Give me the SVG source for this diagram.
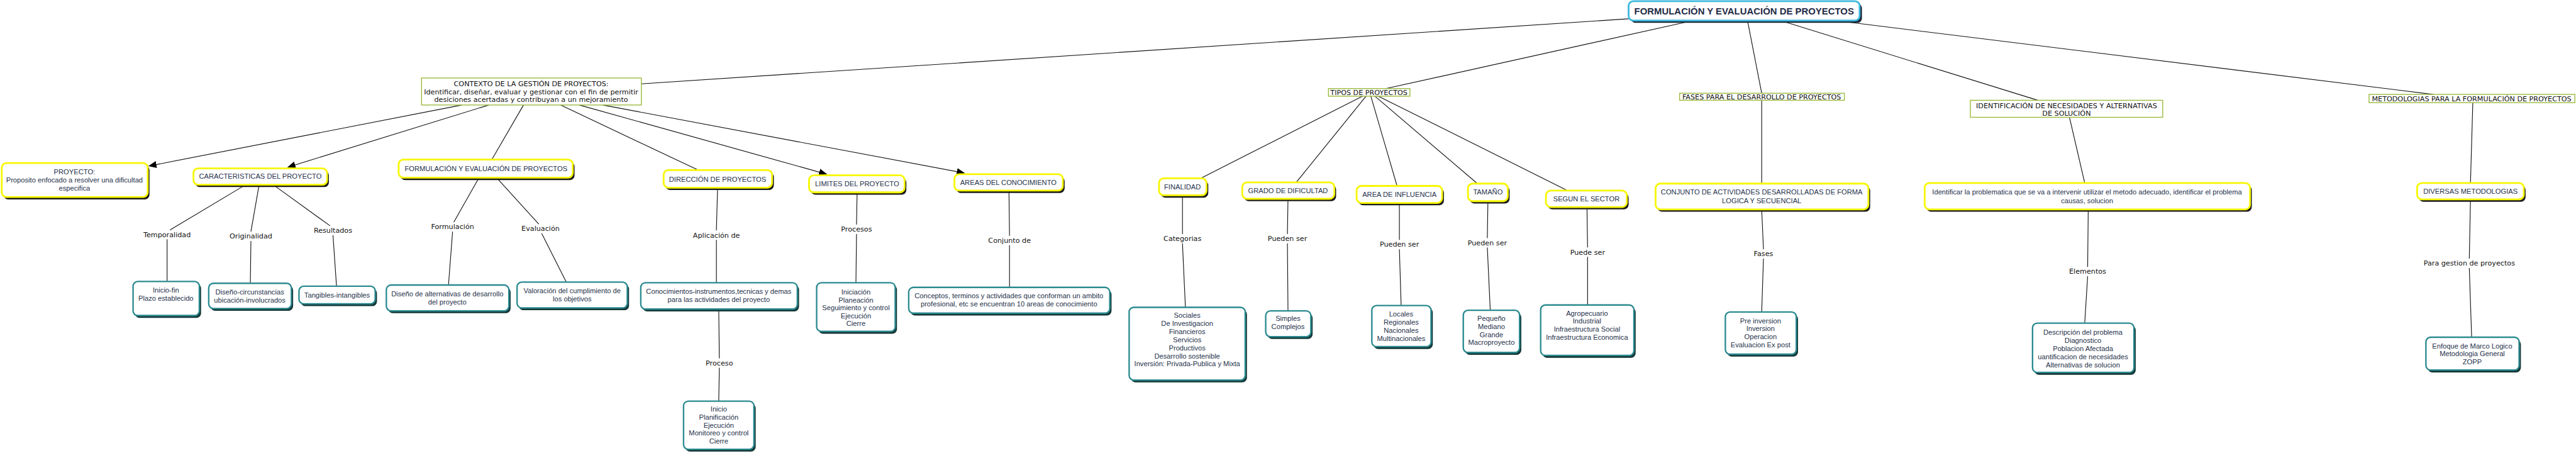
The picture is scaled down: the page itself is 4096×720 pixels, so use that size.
<svg xmlns="http://www.w3.org/2000/svg" width="4096" height="720" viewBox="0 0 4096 720">
<style>
.s{fill:#1c1c1c}
.ts{fill:#163838}
.yb{fill:#fff;stroke:#f7f700;stroke-width:3}
.tb{fill:#fff;stroke:#2a8a90;stroke-width:2.5}
.ob{fill:#fff;stroke:#9cbb3c;stroke-width:1.5}
.n{font-family:"Liberation Sans",Arial,sans-serif;font-size:12px;fill:#25314a;text-anchor:middle}
.o{font-family:"DejaVu Sans",Verdana,sans-serif;font-size:12px;fill:#111;text-anchor:middle}
.l{font-family:"DejaVu Sans",Verdana,sans-serif;font-size:12px;fill:#111;text-anchor:middle}
.c path,.c line{stroke:#111;stroke-width:1.2;fill:none}
</style>
<defs>
<marker id="ah" markerUnits="userSpaceOnUse" markerWidth="14" markerHeight="12" refX="13" refY="6" orient="auto">
<path d="M0,0 L14,6 L0,12 Z" fill="#000"/>
</marker>
</defs>
<rect width="4096" height="720" fill="#fff"/>
<g transform="scale(0.93218)">
<g id="connectors" class="c">
<line x1="2778" y1="32" x2="1094" y2="143"/>
<line x1="2884" y1="36" x2="2364" y2="151"/>
<line x1="2981" y1="36" x2="3005" y2="159"/>
<line x1="3040" y1="36" x2="3476" y2="171"/>
<line x1="3138" y1="36" x2="4151" y2="161"/>
<line x1="788" y1="179" x2="254" y2="283" marker-end="url(#ah)"/>
<line x1="834" y1="179" x2="491" y2="285" marker-end="url(#ah)"/>
<line x1="893" y1="179" x2="839" y2="272"/>
<line x1="956" y1="179" x2="1191" y2="290"/>
<line x1="988" y1="179" x2="1410" y2="297" marker-end="url(#ah)"/>
<line x1="1028" y1="179" x2="1645" y2="295" marker-end="url(#ah)"/>
<path d="M419,315 L290,392 M285,408 L285,480"/>
<path d="M442,315 L428,395 M428,411 L427,483"/>
<path d="M466,315 L563,385 M568,401 L574,488"/>
<path d="M817,303 L774,379 M772,395 L765,486"/>
<path d="M847,303 L919,382 M924,398 L966,481"/>
<path d="M1224,320 L1222,393 M1222,409 L1222,482"/>
<path d="M1226,527 L1227,611 M1227,627 L1226,684"/>
<path d="M1462,328 L1461,383 M1461,399 L1460,482"/>
<path d="M1721,325 L1722,402 M1722,418 L1722,490"/>
<line x1="2326" y1="163" x2="2048" y2="304"/>
<line x1="2331" y1="163" x2="2211" y2="311"/>
<line x1="2338" y1="163" x2="2383" y2="317"/>
<line x1="2344" y1="163" x2="2520" y2="313"/>
<line x1="2349" y1="163" x2="2676" y2="326"/>
<path d="M2017,333 L2017,399 M2017,415 L2022,524"/>
<path d="M2197,339 L2196,399 M2196,415 L2197,530"/>
<path d="M2387,346 L2387,409 M2387,425 L2390,521"/>
<path d="M2538,343 L2537,406 M2537,422 L2542,529"/>
<path d="M2707,353 L2708,422 M2708,438 L2708,520"/>
<line x1="3005" y1="171" x2="3005" y2="313"/>
<path d="M3005,357 L3008,425 M3008,441 L3005,532"/>
<line x1="3530" y1="200" x2="3556" y2="312"/>
<path d="M3562,357 L3561,455 M3561,471 L3556,551"/>
<line x1="4218" y1="175" x2="4214" y2="312"/>
<path d="M4214,340 L4212,441 M4212,457 L4216,575"/>
<text class="l" x="285" y="404">Temporalidad</text>
<text class="l" x="428" y="407">Originalidad</text>
<text class="l" x="568" y="397">Resultados</text>
<text class="l" x="772" y="391">Formulación</text>
<text class="l" x="922" y="394">Evaluación</text>
<text class="l" x="1222" y="405">Aplicación de</text>
<text class="l" x="1461" y="395">Procesos</text>
<text class="l" x="1722" y="414">Conjunto de</text>
<text class="l" x="1227" y="623">Proceso</text>
<text class="l" x="2017" y="411">Categorias</text>
<text class="l" x="2196" y="411">Pueden ser</text>
<text class="l" x="2387" y="421">Pueden ser</text>
<text class="l" x="2537" y="418">Pueden ser</text>
<text class="l" x="2708" y="434">Puede ser</text>
<text class="l" x="3008" y="437">Fases</text>
<text class="l" x="3561" y="467">Elementos</text>
<text class="l" x="4212" y="453">Para gestion de proyectos</text>
</g>
<g id="title">
<rect x="2782" y="6" width="394" height="33" rx="8" fill="#1b2838"/>
<rect x="2778" y="2" width="394" height="33" rx="8" fill="#fff" stroke="#3cb8de" stroke-width="3"/>
<text x="2975" y="25" font-family="Liberation Sans, Arial, sans-serif" font-size="16" font-weight="bold" fill="#1f2b46" text-anchor="middle">FORMULACIÓN Y EVALUACIÓN DE PROYECTOS</text>
</g>
<g id="contexto">
<rect class="ob" x="719" y="133" width="375" height="46"/>
<text class="o" x="906" y="147">CONTEXTO DE LA GESTIÓN DE PROYECTOS:</text>
<text class="o" x="906" y="160.5">Identificar, diseñar, evaluar y gestionar con el fin de permitir</text>
<text class="o" x="906" y="174">desiciones acertadas y contribuyan a un mejoramiento</text>
</g>
<g id="proyecto">
<rect class="s" x="6" y="282" width="249" height="58" rx="8"/>
<rect class="yb" x="3" y="278" width="249" height="58" rx="8"/>
<text class="n" x="127" y="297">PROYECTO:</text>
<text class="n" x="127" y="311">Proposito enfocado a resolver una dificultad</text>
<text class="n" x="127" y="325">especifica</text>
</g>
<g id="caracteristicas">
<rect class="s" x="333" y="291" width="228" height="28" rx="8"/>
<rect class="yb" x="330" y="287" width="228" height="28" rx="8"/>
<text class="n" x="444" y="305">CARACTERISTICAS DEL PROYECTO</text>
</g>
<g id="formulacion2">
<rect class="s" x="683" y="276" width="297" height="31" rx="8"/>
<rect class="yb" x="680" y="272" width="297" height="31" rx="8"/>
<text class="n" x="829" y="292">FORMULACIÓN Y EVALUACIÓN DE PROYECTOS</text>
</g>
<g id="direccion">
<rect class="s" x="1135" y="294" width="185" height="30" rx="8"/>
<rect class="yb" x="1132" y="290" width="185" height="30" rx="8"/>
<text class="n" x="1224" y="310">DIRECCIÓN DE PROYECTOS</text>
</g>
<g id="limites">
<rect class="s" x="1383" y="303" width="163" height="29" rx="8"/>
<rect class="yb" x="1380" y="299" width="163" height="29" rx="8"/>
<text class="n" x="1462" y="318">LIMITES DEL PROYECTO</text>
</g>
<g id="areas">
<rect class="s" x="1631" y="301" width="185" height="28" rx="8"/>
<rect class="yb" x="1628" y="297" width="185" height="28" rx="8"/>
<text class="n" x="1720" y="315">AREAS DEL CONOCIMIENTO</text>
</g>
<g id="iniciofin">
<rect class="ts" x="230" y="484" width="113" height="58" rx="8"/>
<rect class="tb" x="227" y="480" width="113" height="58" rx="8"/>
<text class="n" x="283" y="499">Inicio-fin</text>
<text class="n" x="283" y="513">Plazo establecido</text>
</g>
<g id="disenocirc">
<rect class="ts" x="359" y="487" width="141" height="43" rx="8"/>
<rect class="tb" x="356" y="483" width="141" height="43" rx="8"/>
<text class="n" x="426" y="502">Diseño-circunstancias</text>
<text class="n" x="426" y="516">ubicación-involucrados</text>
</g>
<g id="tangibles">
<rect class="ts" x="513" y="492" width="130" height="30" rx="8"/>
<rect class="tb" x="510" y="488" width="130" height="30" rx="8"/>
<text class="n" x="575" y="507">Tangibles-intangibles</text>
</g>
<g id="disenoalt">
<rect class="ts" x="662" y="490" width="209" height="44" rx="8"/>
<rect class="tb" x="659" y="486" width="209" height="44" rx="8"/>
<text class="n" x="763" y="505">Diseño de alternativas de desarrollo</text>
<text class="n" x="763" y="519">del proyecto</text>
</g>
<g id="valoracion">
<rect class="ts" x="885" y="485" width="188" height="44" rx="8"/>
<rect class="tb" x="882" y="481" width="188" height="44" rx="8"/>
<text class="n" x="976" y="500">Valoración del cumplimiento de</text>
<text class="n" x="976" y="514">los objetivos</text>
</g>
<g id="conocimientos">
<rect class="ts" x="1096" y="486" width="267" height="45" rx="8"/>
<rect class="tb" x="1093" y="482" width="267" height="45" rx="8"/>
<text class="n" x="1226" y="501">Conocimientos-instrumentos,tecnicas y demas</text>
<text class="n" x="1226" y="515">para las actividades del proyecto</text>
</g>
<g id="inicio">
<rect class="ts" x="1169" y="688" width="120" height="82" rx="8"/>
<rect class="tb" x="1166" y="684" width="120" height="82" rx="8"/>
<text class="n" x="1226" y="702">Inicio</text>
<text class="n" x="1226" y="715.5">Planificación</text>
<text class="n" x="1226" y="729">Ejecución</text>
<text class="n" x="1226" y="742.5">Monitoreo y control</text>
<text class="n" x="1226" y="756">Cierre</text>
</g>
<g id="iniciacion">
<rect class="ts" x="1396" y="486" width="134" height="83" rx="8"/>
<rect class="tb" x="1393" y="482" width="134" height="83" rx="8"/>
<text class="n" x="1460" y="502">Iniciación</text>
<text class="n" x="1460" y="515.5">Planeación</text>
<text class="n" x="1460" y="529">Seguimiento y control</text>
<text class="n" x="1460" y="542.5">Ejecución</text>
<text class="n" x="1460" y="556">Cierre</text>
</g>
<g id="conceptos">
<rect class="ts" x="1553" y="494" width="343" height="44" rx="8"/>
<rect class="tb" x="1550" y="490" width="343" height="44" rx="8"/>
<text class="n" x="1721" y="509">Conceptos, terminos y actividades que conforman un ambito</text>
<text class="n" x="1721" y="522.5">profesional, etc se encuentran 10 areas de conocimiento</text>
</g>
<g id="tipos">
<rect class="ob" x="2266" y="151" width="139" height="13"/>
<text class="o" x="2335" y="162">TIPOS DE PROYECTOS</text>
</g>
<g id="finalidad">
<rect class="s" x="1980" y="308" width="81" height="29" rx="8"/>
<rect class="yb" x="1977" y="304" width="81" height="29" rx="8"/>
<text class="n" x="2017" y="323">FINALIDAD</text>
</g>
<g id="grado">
<rect class="s" x="2122" y="315" width="157" height="28" rx="8"/>
<rect class="yb" x="2119" y="311" width="157" height="28" rx="8"/>
<text class="n" x="2197" y="329">GRADO DE DIFICULTAD</text>
</g>
<g id="areainf">
<rect class="s" x="2317" y="321" width="146" height="29" rx="8"/>
<rect class="yb" x="2314" y="317" width="146" height="29" rx="8"/>
<text class="n" x="2387" y="336">AREA DE INFLUENCIA</text>
</g>
<g id="tamano">
<rect class="s" x="2507" y="317" width="68" height="30" rx="8"/>
<rect class="yb" x="2504" y="313" width="68" height="30" rx="8"/>
<text class="n" x="2538" y="332">TAMAÑO</text>
</g>
<g id="segun">
<rect class="s" x="2640" y="329" width="138" height="28" rx="8"/>
<rect class="yb" x="2637" y="325" width="138" height="28" rx="8"/>
<text class="n" x="2706" y="343">SEGUN EL SECTOR</text>
</g>
<g id="sociales">
<rect class="ts" x="1929" y="528" width="198" height="124" rx="8"/>
<rect class="tb" x="1926" y="524" width="198" height="124" rx="8"/>
<text class="n" x="2025" y="542">Sociales</text>
<text class="n" x="2025" y="555.8">De Investigacion</text>
<text class="n" x="2025" y="569.6">Financieros</text>
<text class="n" x="2025" y="583.4">Servicios</text>
<text class="n" x="2025" y="597.2">Productivos</text>
<text class="n" x="2025" y="611">Desarrollo sostenible</text>
<text class="n" x="2025" y="624.8">Inversión: Privada-Publica y Mixta</text>
</g>
<g id="simples">
<rect class="ts" x="2162" y="534" width="77" height="44" rx="8"/>
<rect class="tb" x="2159" y="530" width="77" height="44" rx="8"/>
<text class="n" x="2197" y="547">Simples</text>
<text class="n" x="2197" y="561">Complejos</text>
</g>
<g id="locales">
<rect class="ts" x="2343" y="525" width="101" height="70" rx="8"/>
<rect class="tb" x="2340" y="521" width="101" height="70" rx="8"/>
<text class="n" x="2390" y="540">Locales</text>
<text class="n" x="2390" y="553.8">Regionales</text>
<text class="n" x="2390" y="567.6">Nacionales</text>
<text class="n" x="2390" y="581.4">Multinacionales</text>
</g>
<g id="pequeno">
<rect class="ts" x="2499" y="533" width="96" height="72" rx="8"/>
<rect class="tb" x="2496" y="529" width="96" height="72" rx="8"/>
<text class="n" x="2544" y="547">Pequeño</text>
<text class="n" x="2544" y="560.8">Mediano</text>
<text class="n" x="2544" y="574.6">Grande</text>
<text class="n" x="2544" y="588.4">Macroproyecto</text>
</g>
<g id="agropecuario">
<rect class="ts" x="2631" y="524" width="159" height="86" rx="8"/>
<rect class="tb" x="2628" y="520" width="159" height="86" rx="8"/>
<text class="n" x="2707" y="538">Agropecuario</text>
<text class="n" x="2707" y="551.8">Industrial</text>
<text class="n" x="2707" y="565.6">Infraestructura Social</text>
<text class="n" x="2707" y="579.4">Infraestructura Economica</text>
</g>
<g id="fases">
<rect class="ob" x="2865" y="159" width="281" height="12"/>
<text class="o" x="3005" y="169.5">FASES PARA EL DESARROLLO DE PROYECTOS</text>
</g>
<g id="conjunto">
<rect class="s" x="2827" y="317" width="363" height="44" rx="8"/>
<rect class="yb" x="2824" y="313" width="363" height="44" rx="8"/>
<text class="n" x="3005" y="332">CONJUNTO DE ACTIVIDADES DESARROLLADAS DE FORMA</text>
<text class="n" x="3005" y="346">LOGICA Y SECUENCIAL</text>
</g>
<g id="preinversion">
<rect class="ts" x="2946" y="536" width="121" height="72" rx="8"/>
<rect class="tb" x="2943" y="532" width="121" height="72" rx="8"/>
<text class="n" x="3003" y="551">Pre inversion</text>
<text class="n" x="3003" y="564.8">Inversion</text>
<text class="n" x="3003" y="578.6">Operacion</text>
<text class="n" x="3003" y="592.4">Evaluacion Ex post</text>
</g>
<g id="identificacion">
<rect class="ob" x="3361" y="171" width="328" height="29"/>
<text class="o" x="3525" y="184.5">IDENTIFICACIÓN DE NECESIDADES Y ALTERNATIVAS</text>
<text class="o" x="3525" y="197.5">DE SOLUCIÓN</text>
</g>
<g id="identificar">
<rect class="s" x="3286" y="316" width="555" height="45" rx="8"/>
<rect class="yb" x="3283" y="312" width="555" height="45" rx="8"/>
<text class="n" x="3560" y="332">Identificar la problematica que se va a intervenir utilizar el metodo adecuado, identificar el problema</text>
<text class="n" x="3560" y="346">causas, solucion</text>
</g>
<g id="descripcion">
<rect class="ts" x="3470" y="555" width="173" height="84" rx="8"/>
<rect class="tb" x="3467" y="551" width="173" height="84" rx="8"/>
<text class="n" x="3553" y="571">Descripción del problema</text>
<text class="n" x="3553" y="584.8">Diagnostico</text>
<text class="n" x="3553" y="598.6">Poblacion Afectada</text>
<text class="n" x="3553" y="612.4">uantificacion de necesidades</text>
<text class="n" x="3553" y="626.2">Alternativas de solucion</text>
</g>
<g id="metodologias">
<rect class="ob" x="4041" y="161" width="351" height="14"/>
<text class="o" x="4216" y="172.5">METODOLOGIAS PARA LA FORMULACIÓN DE PROYECTOS</text>
</g>
<g id="diversas">
<rect class="s" x="4126" y="316" width="182" height="28" rx="8"/>
<rect class="yb" x="4123" y="312" width="182" height="28" rx="8"/>
<text class="n" x="4214" y="330">DIVERSAS METODOLOGIAS</text>
</g>
<g id="enfoque">
<rect class="ts" x="4141" y="579" width="159" height="56" rx="8"/>
<rect class="tb" x="4138" y="575" width="159" height="56" rx="8"/>
<text class="n" x="4217" y="594">Enfoque de Marco Logico</text>
<text class="n" x="4217" y="607.5">Metodologia General</text>
<text class="n" x="4217" y="621">ZOPP</text>
</g>
</g>
</svg>
